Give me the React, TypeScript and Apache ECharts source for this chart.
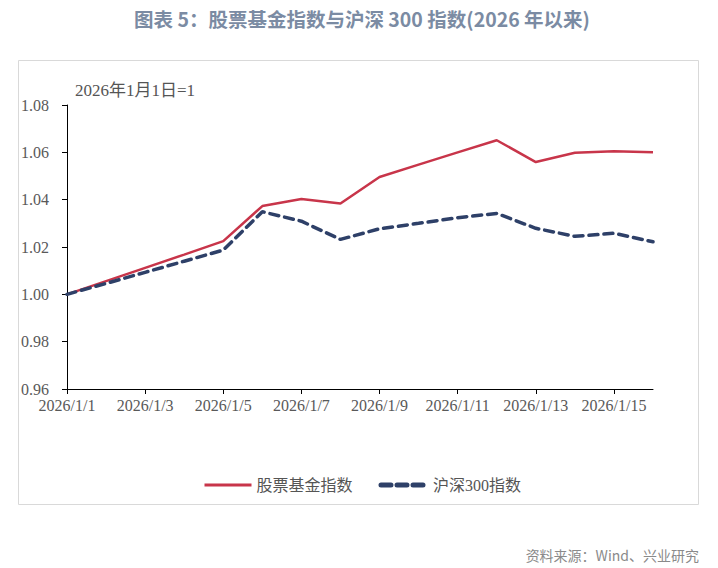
import React, { useEffect, useRef } from "react";
import * as echarts from "echarts";

const categories = [
  "2026/1/1", "2026/1/2", "2026/1/3", "2026/1/4", "2026/1/5", "2026/1/6", "2026/1/7", "2026/1/8",
  "2026/1/9", "2026/1/10", "2026/1/11", "2026/1/12", "2026/1/13", "2026/1/14", "2026/1/15", "2026/1/16",
];
const fundIndex = [
  1.0, 1.0056, 1.0112, 1.0168, 1.0225, 1.0373, 1.0403, 1.0384,
  1.0496, 1.0548, 1.06, 1.0651, 1.0559, 1.0598, 1.0605, 1.06,
];
const hs300 = [
  1.0, 1.0046, 1.0093, 1.014, 1.0187, 1.0349, 1.0309, 1.0232,
  1.0277, 1.03, 1.0324, 1.0342, 1.0279, 1.0245, 1.0258, 1.0222,
];
const seriesNames = ["股票基金指数", "沪深300指数"];
const titleText = "图表 5：股票基金指数与沪深 300 指数(2026 年以来)";
const unitText = "2026年1月1日=1";
const sourceText = "资料来源：Wind、兴业研究";

const serif = "'Liberation Serif', 'DejaVu Serif', 'Noto Sans CJK SC', serif";
const sans = "'Noto Sans CJK SC', 'Noto Sans', sans-serif";

export default function App() {
  const ref = useRef<HTMLDivElement>(null);
  useEffect(() => {
    if (!ref.current) return;
    const chart = echarts.init(ref.current, null, { renderer: "svg" });
    chart.setOption({
      animation: false,
      backgroundColor: "#ffffff",
      graphic: [
        {
          type: "rect",
          shape: { x: 18.5, y: 60.5, width: 680, height: 444 },
          style: { fill: "none", stroke: "#d9d9d9", lineWidth: 1 },
          silent: true,
        },
        {
          type: "text",
          x: 362,
          y: 18,
          style: {
            text: titleText,
            font: `bold 19.5px ${sans}`,
            fill: "#7b8ba3",
            align: "center",
            verticalAlign: "middle",
          },
        },
        {
          type: "text",
          x: 75,
          y: 90,
          style: {
            text: unitText,
            font: `17px ${serif}`,
            fill: "#555555",
            align: "left",
            verticalAlign: "middle",
          },
        },
        {
          type: "text",
          x: 699,
          y: 555,
          style: {
            text: sourceText,
            font: `14px ${sans}`,
            fill: "#8a8a8a",
            align: "right",
            verticalAlign: "middle",
          },
        },
      ],
      legend: {
        top: 472,
        left: 198,
        itemWidth: 47,
        itemHeight: 14,
        itemGap: 26,
        data: [
          { name: seriesNames[0], lineStyle: { width: 3, color: "#c8354a" } },
          { name: seriesNames[1], lineStyle: { width: 5, color: "#2e4068", type: [10, 6], cap: "round" } },
        ],
        itemStyle: { opacity: 0 },
        textStyle: { fontFamily: serif, fontSize: 16, color: "#555555" },
      },
      grid: { left: 67, right: 65, top: 105, bottom: 179, containLabel: false },
      xAxis: {
        type: "category",
        boundaryGap: false,
        data: categories,
        axisLine: { lineStyle: { color: "#000000", width: 1 } },
        axisTick: { show: true, interval: 1, length: 5, lineStyle: { color: "#000000" } },
        axisLabel: {
          interval: 1,
          fontFamily: serif,
          fontSize: 16,
          color: "#595959",
          margin: 8,
        },
        splitLine: { show: false },
      },
      yAxis: {
        type: "value",
        min: 0.96,
        max: 1.08,
        interval: 0.02,
        axisLine: { show: true, lineStyle: { color: "#000000", width: 1 } },
        axisTick: { show: true, length: 5, lineStyle: { color: "#000000" } },
        axisLabel: {
          fontFamily: serif,
          fontSize: 16,
          color: "#595959",
          margin: 18,
          formatter: (v: number) => v.toFixed(2),
        },
        splitLine: { show: false },
      },
      series: [
        {
          name: seriesNames[0],
          type: "line",
          data: fundIndex,
          symbol: "none",
          lineStyle: { color: "#c8354a", width: 2.5 },
          itemStyle: { color: "#c8354a" },
          z: 3,
        },
        {
          name: seriesNames[1],
          type: "line",
          data: hs300,
          symbol: "none",
          lineStyle: { color: "#2e4068", width: 3.5, type: [9, 6], cap: "round" },
          itemStyle: { color: "#2e4068" },
          z: 4,
        },
      ],
    });
    return () => chart.dispose();
  }, []);
  return (
    <div
      ref={ref}
      style={{ position: "absolute", left: 0, top: 0, width: 718, height: 568 }}
    />
  );
}
